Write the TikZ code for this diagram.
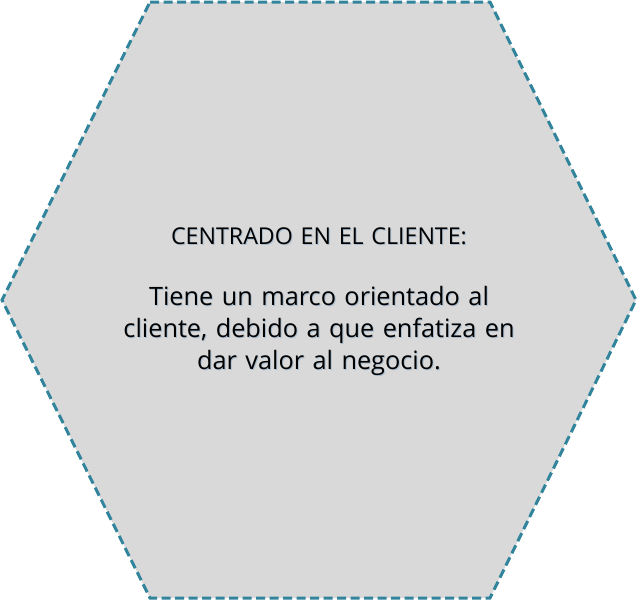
\documentclass[tikz,border=0pt]{standalone}
\usepackage{fontspec}
\setmainfont{Open Sans}
\usepackage{tikz}
\definecolor{hexfill}{HTML}{D9D9D9}
\definecolor{hexline}{HTML}{31849B}
\definecolor{shade}{HTML}{A8BCCE}

\begin{document}
\begin{tikzpicture}[x=1pt,y=-1pt,
  hexa/.style={draw=hexline,fill=hexfill,line width=3pt,dash pattern=on 9pt off 4.5pt},
  txt/.style={align=center,text=black,font=\fontsize{25.3}{32}\selectfont,text width=420pt},
  txtshade/.style={txt,text=shade}]
\useasboundingbox (0,0) rectangle (638,600);
\draw [hexa] (150,2) -- (490,2) -- (636,300) -- (490,598) -- (150,598) -- (2,300) -- cycle;
\node [txtshade,font=\fontsize{23.2}{28}\selectfont] at (320,237) {CENTRADO EN EL CLIENTE:};
\node [txt,font=\fontsize{23.2}{28}\selectfont] (title) at (319,236) {CENTRADO EN EL CLIENTE:};
\node [txtshade] at (320,332) {Tiene un marco orientado al\\cliente, debido a que enfatiza en\\dar valor al negocio.};
\node [txt] (body) at (319,331) {Tiene un marco orientado al\\cliente, debido a que enfatiza en\\dar valor al negocio.};
\end{tikzpicture}
\end{document}
